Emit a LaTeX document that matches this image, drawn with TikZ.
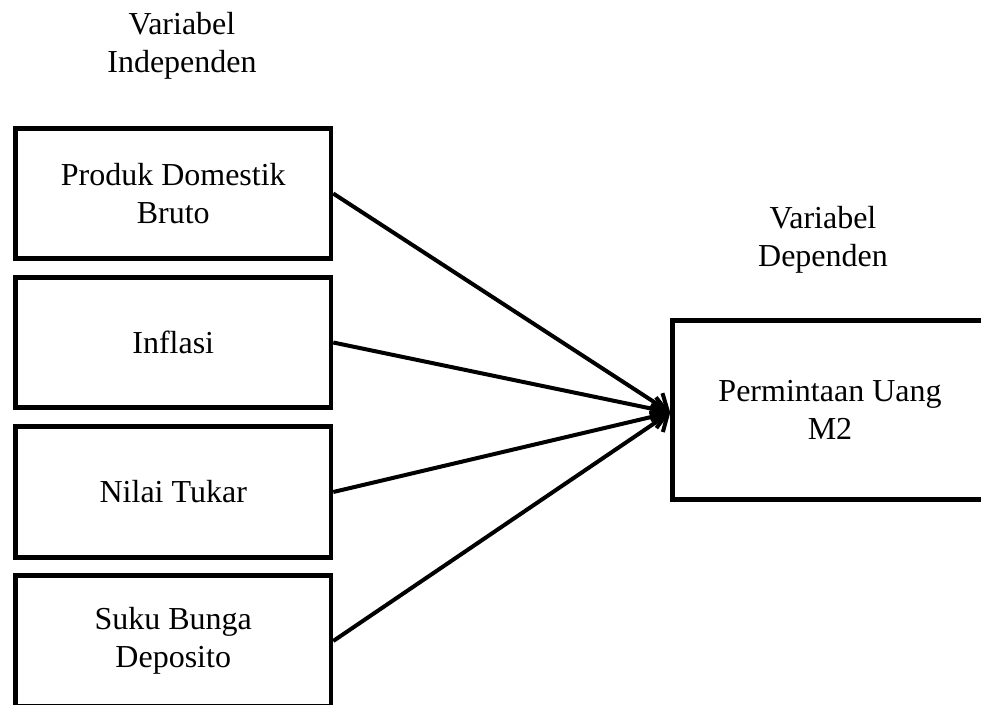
\documentclass[tikz,border=0pt]{standalone}
\usepackage{fontspec}
\setmainfont{Liberation Serif}
\usetikzlibrary{arrows.meta}
\begin{document}
\begin{tikzpicture}[x=1pt,y=-1pt,
  varbox/.style={draw=black, line width=4.5pt, minimum width=315.5pt, minimum height=130pt,
    inner sep=0pt, align=center, font=\fontsize{32}{38}\selectfont},
  lbl/.style={align=center, font=\fontsize{32}{38}\selectfont, inner sep=0pt},
  conn/.style={line width=4pt, -{Straight Barb[length=14pt,width=24pt,line width=4pt]}}]
\clip (0,0) rectangle (981,704);
\useasboundingbox (0,0) rectangle (981,704);
\node[varbox] (pdb) at (173.25,193.5) {Produk Domestik\\Bruto};
\node[varbox] (inf) at (173.25,342.5) {Inflasi};
\node[varbox, minimum height=131pt] (nt) at (173.25,492) {Nilai Tukar};
\node[varbox, minimum height=131pt] (sbd) at (173.25,641) {Suku Bunga\\Deposito};
\node[varbox, minimum width=315pt, minimum height=179pt] (m2) at (830,410) {Permintaan Uang\\M2};
\node[lbl] (vi) at (182,46) {Variabel\\Independen};
\node[lbl] (vd) at (823,239.5) {Variabel\\Dependen};
\coordinate (tip) at ([yshift=-2.5pt]m2.west);
\draw[conn] (pdb.east) -- (tip);
\draw[conn] (inf.east) -- (tip);
\draw[conn] (nt.east) -- (tip);
\draw[conn] (sbd.east) -- (tip);
\end{tikzpicture}
\end{document}
